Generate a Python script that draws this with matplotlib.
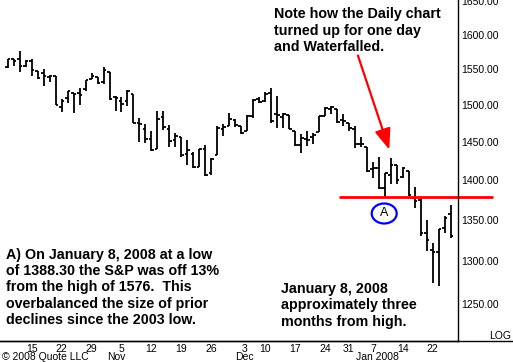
import numpy as np
import matplotlib.pyplot as plt
from matplotlib.lines import Line2D
from matplotlib.patches import Ellipse
from matplotlib.transforms import ScaledTranslation
from matplotlib.ticker import FixedLocator, FormatStrFormatter, NullLocator

# S&P 500 daily bars, Oct 9 2007 - Jan 25 2008 (trading days)
dates = ['10-09', '10-10', '10-11', '10-12', '10-15', '10-16', '10-17', '10-18', '10-19',
         '10-22', '10-23', '10-24', '10-25', '10-26', '10-29', '10-30', '10-31',
         '11-01', '11-02', '11-05', '11-06', '11-07', '11-08', '11-09',
         '11-12', '11-13', '11-14', '11-15', '11-16', '11-19', '11-20', '11-21', '11-23',
         '11-26', '11-27', '11-28', '11-29', '11-30',
         '12-03', '12-04', '12-05', '12-06', '12-07', '12-10', '12-11', '12-12', '12-13', '12-14',
         '12-17', '12-18', '12-19', '12-20', '12-21', '12-24', '12-26', '12-27', '12-28', '12-31',
         '01-02', '01-03', '01-04', '01-07', '01-08', '01-09', '01-10', '01-11',
         '01-14', '01-15', '01-16', '01-17', '01-18', '01-22', '01-23', '01-24', '01-25']
opens = [1553.2, 1565.0, 1564.7, 1555.4, 1562.3, 1547.8, 1544.4, 1539.3, 1540.0,
         1497.8, 1509.3, 1516.6, 1516.2, 1522.2, 1536.9, 1539.4, 1532.2,
         1545.8, 1511.1, 1505.6, 1505.3, 1515.5, 1475.3, 1467.6,
         1453.7, 1441.4, 1483.4, 1468.0, 1453.1, 1456.7, 1434.5, 1434.7, 1417.6,
         1440.7, 1409.6, 1433.0, 1467.4, 1471.8,
         1479.6, 1471.3, 1465.2, 1484.6, 1508.6, 1505.1, 1516.7, 1487.6, 1483.3, 1486.2,
         1465.1, 1445.9, 1454.7, 1456.4, 1463.2, 1484.6, 1495.1, 1495.1, 1479.8, 1475.3,
         1468.0, 1447.6, 1444.0, 1414.1, 1415.7, 1390.3, 1406.8, 1419.9,
         1404.6, 1411.9, 1377.4, 1374.8, 1333.9, 1312.9, 1310.4, 1340.1, 1357.3]
highs = [1565.3, 1565.4, 1576.1, 1563.0, 1564.7, 1547.8, 1550.7, 1542.8, 1540.0,
         1508.1, 1520.0, 1517.2, 1523.2, 1535.5, 1544.7, 1539.4, 1552.8,
         1545.8, 1513.2, 1510.8, 1520.8, 1515.5, 1482.5, 1474.1,
         1464.9, 1492.6, 1492.1, 1472.7, 1462.2, 1456.7, 1452.6, 1436.4, 1440.9,
         1446.1, 1429.5, 1471.6, 1473.8, 1488.9,
         1481.2, 1471.3, 1486.1, 1508.0, 1510.6, 1518.3, 1523.6, 1512.0, 1489.4, 1486.7,
         1465.1, 1460.2, 1464.4, 1461.5, 1485.4, 1497.6, 1498.9, 1495.1, 1488.0, 1475.8,
         1471.8, 1456.8, 1444.0, 1423.9, 1430.3, 1409.2, 1429.1, 1419.9,
         1417.4, 1411.9, 1392.0, 1377.7, 1350.3, 1322.1, 1339.0, 1355.2, 1368.6]
lows = [1551.8, 1555.5, 1546.7, 1554.1, 1540.8, 1536.3, 1526.0, 1531.8, 1500.3,
        1490.4, 1503.6, 1489.6, 1500.5, 1520.2, 1536.9, 1529.6, 1529.4,
        1506.7, 1492.5, 1490.0, 1499.1, 1475.0, 1450.3, 1448.5,
        1438.5, 1441.4, 1466.5, 1443.5, 1444.0, 1430.4, 1419.3, 1415.6, 1417.6,
        1406.1, 1407.4, 1433.0, 1458.4, 1470.9,
        1470.1, 1460.7, 1465.2, 1482.2, 1502.7, 1505.0, 1476.0, 1468.2, 1469.2, 1467.8,
        1445.4, 1435.7, 1445.3, 1447.2, 1463.2, 1484.6, 1488.2, 1475.9, 1471.7, 1465.1,
        1442.1, 1443.7, 1411.2, 1403.5, 1388.3, 1378.7, 1395.3, 1394.8,
        1402.5, 1380.6, 1364.3, 1330.7, 1312.5, 1274.3, 1270.1, 1334.3, 1327.5]
closes = [1565.2, 1562.5, 1554.4, 1561.8, 1548.7, 1538.5, 1541.2, 1540.1, 1500.6,
          1506.3, 1519.6, 1515.9, 1514.4, 1535.3, 1541.0, 1531.0, 1549.4,
          1508.4, 1509.7, 1502.2, 1520.3, 1475.6, 1474.8, 1453.7,
          1439.2, 1481.1, 1470.6, 1451.2, 1458.7, 1433.3, 1439.7, 1416.8, 1440.7,
          1407.2, 1428.2, 1469.0, 1469.7, 1481.1,
          1472.4, 1462.8, 1485.0, 1507.3, 1504.7, 1516.0, 1477.7, 1486.6, 1488.4, 1468.0,
          1445.9, 1455.0, 1453.0, 1460.1, 1484.5, 1496.5, 1497.7, 1476.3, 1478.5, 1468.4,
          1447.2, 1447.2, 1411.6, 1416.2, 1390.2, 1409.1, 1420.3, 1401.0,
          1416.3, 1381.0, 1373.2, 1333.3, 1325.2, 1310.5, 1338.6, 1352.1, 1330.6]

# x axis labels (trading-day positions counted from Oct 15)
tick_pos = [0, 5, 10, 15, 20, 25, 30, 35.5, 39, 44, 49, 53, 57, 62, 67]
tick_labels = ['15', '22', '29', '5', '12', '19', '26', '3', '10', '17', '24', '31', '7', '14', '22']
month_pos = [14.2, 35.6, 57.8]
month_labels = ['Nov', 'Dec', 'Jan 2008']
y_ticks = [1250, 1300, 1350, 1400, 1450, 1500, 1550, 1600, 1650]

support_level = 1379
arrow_from = (54.5, 1570)
arrow_to = (59.75, 1440)
marker_a = (58.9, 1358)

x = np.arange(len(dates)) - dates.index('10-15')

W, H = 513, 362
fig = plt.figure(figsize=(W / 100, H / 100), dpi=100)
plt.rcParams['font.family'] = ['Liberation Sans', 'DejaVu Sans']
ax = fig.add_axes([0, 21 / H, 458 / W, 341 / H])

# OHLC bars
lw = 1.3
ax.vlines(x, lows, highs, color='black', lw=lw)
ax.hlines(opens, x - 0.45, x, color='black', lw=lw)
ax.hlines(closes, x, x + 0.45, color='black', lw=lw)

ax.set_yscale('log')
ax.set_ylim(1208, 1652)
ax.set_xlim(-5.3, 71.23)

ax.yaxis.tick_right()
ax.yaxis.set_major_locator(FixedLocator(y_ticks))
ax.yaxis.set_major_formatter(FormatStrFormatter('%.2f'))
ax.yaxis.set_minor_locator(NullLocator())
ax.tick_params(axis='y', length=0, pad=2.5, labelsize=7.5, colors='black')

ax.set_xticks(tick_pos)
ax.set_xticklabels(tick_labels)
ax.tick_params(axis='x', length=0, pad=2, labelsize=7.5)
for pos, lab in zip(month_pos, month_labels):
    ax.text(pos, -0.032, lab, transform=ax.get_xaxis_transform(), ha='center', va='top', fontsize=7.5)

for s in ['top', 'left']:
    ax.spines[s].set_visible(False)
ax.spines['right'].set_linewidth(1)
ax.spines['bottom'].set_linewidth(1)
fig.add_artist(Line2D([0, 1], [21 / H, 21 / H], color='black', lw=1))

# annotations
ax.hlines(support_level, 51.3, 77.1, color='#ff0000', lw=2, clip_on=False)
ax.annotate('', xy=arrow_to, xytext=arrow_from,
            arrowprops=dict(arrowstyle='-|>,head_length=0.9,head_width=0.35', color='#ff0000',
                            lw=1.6, shrinkA=0, shrinkB=0, mutation_scale=14))
circle_tr = fig.dpi_scale_trans + ScaledTranslation(marker_a[0], marker_a[1], ax.transData)
ax.add_patch(Ellipse((0, 0), 0.25, 0.20, transform=circle_tr, fc='white', ec='#0000ff', lw=1.6))
ax.text(marker_a[0], marker_a[1], 'A', ha='center', va='center', fontsize=9)

bold = dict(ha='left', va='top', fontsize=10.3, fontweight='bold')
fig.text(274 / W, 1 - 7.3 / H, 'Note how the Daily chart\nturned up for one day\nand Waterfalled.',
         linespacing=1.23, **bold)
fig.text(6 / W, 1 - 248 / H,
         'A) On January 8, 2008 at a low\nof 1388.30 the S&P was off 13%\nfrom the high of 1576.  This\n'
         'overbalanced the size of prior\ndeclines since the 2003 low.',
         linespacing=1.2, **bold)
fig.text(281 / W, 1 - 281.5 / H, 'January 8, 2008\napproximately three\nmonths from high.',
         linespacing=1.24, **bold)
fig.text(511 / W, 1 - 336 / H, 'LOG', ha='right', va='center', fontsize=7.5)
fig.text(2.5 / W, 1 - 356.5 / H, '\u00a9 2008 Quote LLC', ha='left', va='center', fontsize=7.5)

fig.savefig('out.png', dpi=100, facecolor='white')
